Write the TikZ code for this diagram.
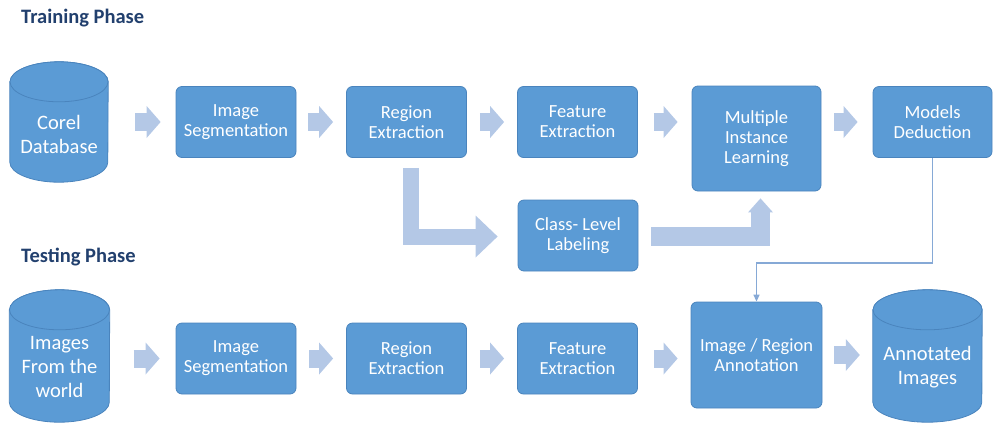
\documentclass[tikz,border=0pt]{standalone}
\usepackage{fontspec}
\setmainfont{Carlito}
\usetikzlibrary{arrows.meta}
\definecolor{boxblue}{HTML}{5B9BD5}
\definecolor{boxedge}{HTML}{4A84BD}
\definecolor{flowblue}{HTML}{B4C8E6}
\definecolor{linkblue}{HTML}{86A9D6}
\definecolor{titleblue}{HTML}{22406E}
\tikzset{
  stage/.style={rectangle, rounded corners=6pt, fill=boxblue, draw=boxedge,
    line width=0.8pt, text=white, align=center, inner sep=0pt,
    minimum width=120pt, minimum height=71pt,
    font=\fontsize{18.5}{20}\selectfont},
  store/.style={rectangle, inner sep=0pt, minimum width=98pt, minimum height=120pt},
  drum/.style={fill=boxblue, draw=boxedge, line width=0.8pt},
  storetext/.style={text=white, align=center, inner sep=0pt,
    font=\fontsize{20.5}{24}\selectfont},
  flow/.style={draw=flowblue, line width=18pt,
    -{Triangle[length=14pt,width=32pt,line width=0pt 0]}},
  link/.style={draw=linkblue, line width=1.5pt,
    -{Triangle[length=7pt,width=6pt]}},
  phase/.style={anchor=west, inner sep=0pt, text=titleblue,
    font=\fontsize{20.5}{24}\selectfont\bfseries}
}
% cylinder round a store node: #1 node, #2 half width
\newcommand{\drum}[2]{
    \draw [drum] ([yshift=-20pt]#1.north west) -- ([yshift=20pt]#1.south west)
        arc [start angle=180, end angle=360, x radius=#2pt, y radius=20pt]
        -- ([yshift=-20pt]#1.north east)
        arc [start angle=0, end angle=180, x radius=#2pt, y radius=20pt] -- cycle;
    \draw [drum] ([yshift=-20pt]#1.north) ellipse [x radius=#2pt, y radius=20pt];
}
\begin{document}
\begin{tikzpicture}[x=1pt, y=-1pt]
    \useasboundingbox (0, 0) rectangle (1003, 437);
    % training phase
    \node [phase] (train) at (21, 18) {Training Phase};
    \node [store] (corel) at (59, 122) {};
    \drum{corel}{49}
    \node [storetext] (corel-text) at ([yshift=-12pt]corel.center) {Corel\\Database};
    \node [stage] (seg1) at (236, 122) {Image\\Segmentation};
    \node [stage] (reg1) at (406.5, 122) {Region\\Extraction};
    \node [stage] (feat1) at (577.5, 122) {Feature\\Extraction};
    \node [stage, minimum width=129pt, minimum height=105pt] (mil)
        at (756.5, 138.5) {Multiple\\Instance\\Learning};
    \node [stage, minimum width=119pt] (model) at (932.5, 122) {Models\\Deduction};
    \node [stage] (cls) at (578, 235.5) {Class- Level\\Labeling};
    \draw [flow, shorten <=27pt, shorten >=15pt] (corel.east |- seg1.west) -- (seg1.west);
    \draw [flow, shorten <=12pt, shorten >=13pt] (seg1) -- (reg1);
    \draw [flow, shorten <=13pt, shorten >=13pt] (reg1) -- (feat1);
    \draw [flow, shorten <=16pt, shorten >=14pt] (feat1.east) -- (feat1.east -| mil.west);
    \draw [flow, shorten <=13pt, shorten >=15pt] (mil.east |- model.west) -- (model.west);
    \draw [flow, line width=16pt, -{Triangle[length=22pt,width=42pt,line width=0pt 0]},
        shorten <=10pt, shorten >=20pt] ([xshift=4.5pt]reg1.south) |- ([yshift=-1pt]cls.west);
    \draw [flow, line width=19pt, -{Triangle[length=14pt,width=25pt,line width=0pt 0]},
        shorten <=13pt, shorten >=7pt] ([yshift=-1pt]cls.east) -| ([xshift=4pt]mil.south);
    % testing phase
    \node [phase] (test) at (21, 257) {Testing Phase};
    \node [store, minimum width=100pt, minimum height=132pt] (world) at (59.5, 356) {};
    \drum{world}{50}
    \node [storetext] (world-text) at ([yshift=-11pt]world.center) {Images\\From the\\world};
    \node [stage] (seg2) at (236, 358.5) {Image\\Segmentation};
    \node [stage] (reg2) at (406.5, 358.5) {Region\\Extraction};
    \node [stage] (feat2) at (577.5, 358.5) {Feature\\Extraction};
    \node [stage, minimum width=131pt, minimum height=106pt] (annot)
        at (756.5, 355) {Image / Region\\Annotation};
    \node [store, minimum width=109pt, minimum height=132pt] (result) at (927.5, 356) {};
    \drum{result}{54.5}
    \node [storetext] (result-text) at ([yshift=-11pt]result.center) {Annotated\\Images};
    \draw [flow, shorten <=24pt, shorten >=16pt] (world.east |- seg2.west) -- (seg2.west);
    \draw [flow, shorten <=13pt, shorten >=13pt] (seg2) -- (reg2);
    \draw [flow, shorten <=13pt, shorten >=13pt] (reg2) -- (feat2);
    \draw [flow, shorten <=16pt, shorten >=13pt] (feat2.east) -- (feat2.east -| annot.west);
    \draw [flow, shorten <=12pt, shorten >=13pt] (annot.east) -- (annot.east -| result.west);
    % models feed the annotation
    \coordinate (bend) at (756.5, 263);
    \draw [link] (model.south) |- (bend) -- (annot.north);
\end{tikzpicture}
\end{document}
